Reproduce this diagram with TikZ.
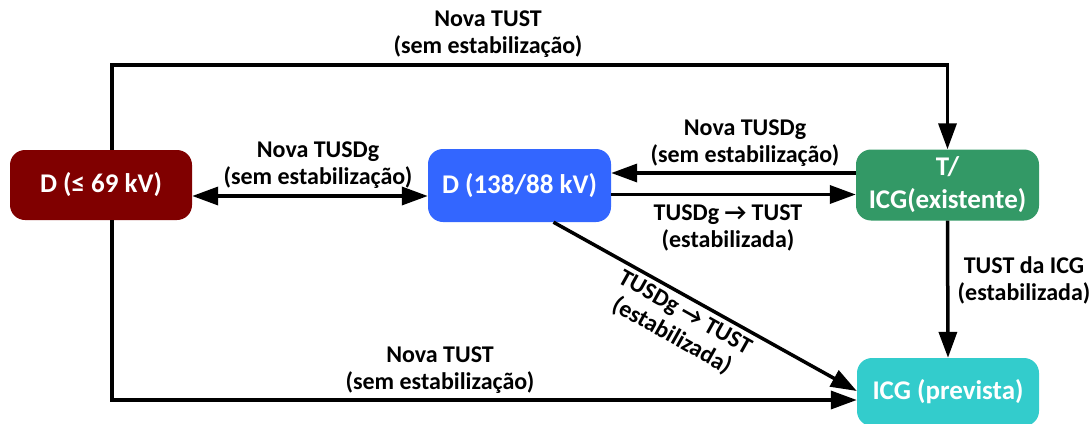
\documentclass[tikz,border=0pt]{standalone}
\usepackage{fontspec}
\setmainfont{Carlito}
\usetikzlibrary{arrows.meta}
\definecolor{cRed}{HTML}{800000}
\definecolor{cBlue}{HTML}{3366FF}
\definecolor{cGreen}{HTML}{339966}
\definecolor{cCyan}{HTML}{33CCCC}
\begin{document}
\begin{tikzpicture}[x=1pt,y=-1pt,
  box/.style={draw=none, rounded corners=15pt, text=white,
    font=\fontsize{27}{33}\selectfont\bfseries, align=center, inner sep=0pt},
  conn/.style={line width=3.5pt, -{Triangle[length=26pt,width=18pt]}},
  bothconn/.style={line width=3.5pt, {Triangle[length=26pt,width=18pt]}-{Triangle[length=26pt,width=18pt]}},
  lbl/.style={font=\fontsize{24}{27}\selectfont\bfseries, align=center, inner sep=0pt}]
\useasboundingbox (0,0) rectangle (1092,423);
\clip (0,0) rectangle (1092,423);
% nodes
\node[box, fill=cRed, minimum width=182pt, minimum height=70pt] (d1) at (101,185) {D (≤ 69 kV)};
\node[box, fill=cBlue, minimum width=183pt, minimum height=73pt] (d2) at (519.5,185.5) {D (138/88 kV)};
\node[box, fill=cGreen, minimum width=183pt, minimum height=71pt] (t) at (947.5,185) {T/\\ICG(existente)};
\node[box, fill=cCyan, minimum width=182pt, minimum height=68pt] (icg) at (948,392) {ICG (prevista)};
\coordinate (lx) at (112,0);
\coordinate (topy) at (0,65);
% connectors
\draw[conn] (d1.north -| lx) -- (lx |- topy) -| (t.north);
\draw[conn] (d1.south -| lx) |- ([yshift=-8pt]icg.west);
\draw[bothconn] ([yshift=-11pt]d1.east) -- ([yshift=-11pt]d1.east -| d2.west);
\draw[conn] ([yshift=12pt]t.west) -- ([yshift=12pt]t.west -| d2.east);
\draw[conn] ([yshift=-9pt]d2.east) -- ([yshift=-9pt]d2.east -| t.west);
\draw[conn] ([xshift=34pt]d2.south) -- ([yshift=1pt]icg.west);
\draw[conn] (t.south) -- (icg.north);
% labels
\node[lbl] (l1) at (488,34) {Nova TUST\\(sem estabilização)};
\node[lbl] (l2) at (318,165) {Nova TUSDg\\(sem estabilização)};
\node[lbl] (l3) at (745,143) {Nova TUSDg\\(sem estabilização)};
\node[lbl] (l4) at (728,228) {TUSDg → TUST\\(estabilizada)};
\node[lbl] (l5) at (1024,280) {TUST da ICG\\(estabilizada)};
\node[lbl] (l6) at (440,370) {Nova TUST\\(sem estabilização)};
\node[lbl, rotate=-29.3] (l7) at (678,325) {TUSDg → TUST\\(estabilizada)};
\end{tikzpicture}
\end{document}
